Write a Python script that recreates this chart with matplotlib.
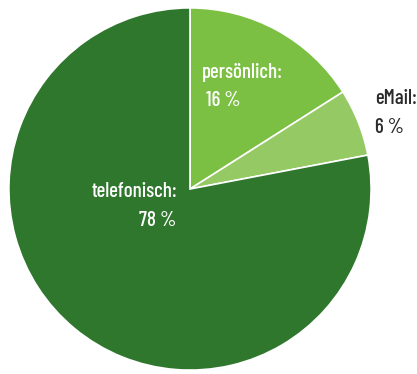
import matplotlib.pyplot as plt

# Anteile der Kontaktwege
labels = ['persönlich', 'eMail', 'telefonisch']
shares = [16, 6, 78]
colors = ['#7bc043', '#95c964', '#2e772c']

W, H = 417, 374
fig = plt.figure(figsize=(W / 100, H / 100), dpi=100)
ax = fig.add_axes([8 / W, 3 / H, 364 / W, 364 / H])

ax.pie(shares, colors=colors, startangle=90, counterclock=False,
       wedgeprops=dict(edgecolor='white', linewidth=1.2))
ax.set_xlim(-1.005, 1.005)
ax.set_ylim(-1.005, 1.005)
ax.set_aspect('equal')


def label(px, py, text, color, ha='left'):
    # px/py: Pixelposition der Grundlinie, von oben links gemessen
    fig.text(px / W, 1 - py / H, text, color=color, ha=ha, va='baseline',
             fontsize=15, fontweight=500, family='Barlow Condensed')


label(202, 78, f'{labels[0]}:', 'white')
label(206, 106, f'{shares[0]} %', 'white')
label(375, 104, f'{labels[1]}:', '#2b2b2b')
label(375, 133, f'{shares[1]} %', '#2b2b2b')
label(177, 197, f'{labels[2]}:', 'white', ha='right')
label(176, 226, f'{shares[2]} %', 'white', ha='right')

fig.savefig('out.png', dpi=100)
